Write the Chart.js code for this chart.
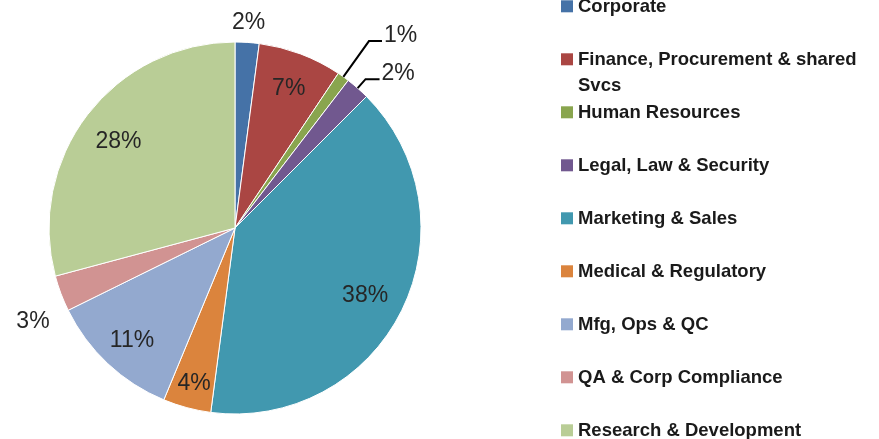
<!DOCTYPE html>
<html lang="en">

<head>
    <meta charset="UTF-8">
    <title>Pie chart - headcount by function</title>
    <style>
        body {
            margin: 0;
            background: #fff;
        }
    </style>
</head>

<body>
    <canvas id="myChart01" width="879" height="439"></canvas>
    <script src="https://cdn.jsdelivr.net/npm/chart.js"></script>
    <script>
        // data
        var categories = [
            'Corporate',
            ['Finance, Procurement & shared', 'Svcs'],
            'Human Resources',
            'Legal, Law & Security',
            'Marketing & Sales',
            'Medical & Regulatory',
            'Mfg, Ops & QC',
            'QA & Corp Compliance',
            'Research & Development'
        ];
        var shares = [2, 7, 1, 2, 38, 4, 11, 3, 28];

        // styles
        var sliceColors = ['#4572A7', '#AA4643', '#89A54E', '#71588F', '#4198AF', '#DB843D', '#93A9CF', '#D19392', '#B9CD96'];
        // label placement per slice: [radius factor, angle nudge in deg], object = leader line
        var labelPlace = [[1.12, 0], [0.82, 0], { len: 44, h: 13 }, { len: 12, h: 14 }, [0.78, 0], [0.85, 0], [0.81, 0], [1.19, -3.5], [0.79, 0]];

        var labelPlugin = {
            id: 'pieLabels',
            afterDraw: function (chart) {
                var ctx = chart.ctx;
                var arcs = chart.getDatasetMeta(0).data;
                ctx.save();
                ctx.fillStyle = '#262626';
                ctx.font = '23px "Liberation Sans", Arial, sans-serif';
                arcs.forEach(function (arc, i) {
                    var p = arc.getProps(['x', 'y', 'startAngle', 'endAngle', 'outerRadius'], true);
                    var mid = (p.startAngle + p.endAngle) / 2;
                    var txt = shares[i] + '%';
                    var place = labelPlace[i];
                    if (Array.isArray(place)) {
                        var a = mid + place[1] * Math.PI / 180;
                        ctx.textAlign = 'center';
                        ctx.textBaseline = 'middle';
                        ctx.fillText(txt, p.x + Math.cos(a) * p.outerRadius * place[0], p.y + 3 + Math.sin(a) * p.outerRadius * place[0]);
                    } else {
                        // leader line
                        var x0 = p.x + Math.cos(mid) * p.outerRadius;
                        var y0 = p.y + Math.sin(mid) * p.outerRadius;
                        var x1 = p.x + Math.cos(mid) * (p.outerRadius + place.len);
                        var y1 = p.y + Math.sin(mid) * (p.outerRadius + place.len);
                        ctx.beginPath();
                        ctx.moveTo(x0, y0);
                        ctx.lineTo(x1, y1);
                        ctx.lineTo(x1 + place.h, y1);
                        ctx.strokeStyle = '#000';
                        ctx.lineWidth = 2;
                        ctx.stroke();
                        ctx.textAlign = 'left';
                        ctx.textBaseline = 'alphabetic';
                        ctx.fillText(txt, x1 + place.h + 2, y1 + 1);
                    }
                });

                // legend on the right
                ctx.font = 'bold 18.5px "Liberation Sans", Arial, sans-serif';
                ctx.textAlign = 'left';
                ctx.textBaseline = 'middle';
                categories.forEach(function (item, i) {
                    var y = 6.3 + 53 * i;
                    ctx.fillStyle = sliceColors[i];
                    ctx.fillRect(561, y - 6, 12, 12);
                    ctx.fillStyle = '#1a1a1a';
                    var lines = Array.isArray(item) ? item : [item];
                    lines.forEach(function (line, k) {
                        ctx.fillText(line, 578, y + 1 + k * 26);
                    });
                });
                ctx.restore();
            }
        };

        var ctx01 = document.getElementById('myChart01');
        var chart01 = new Chart(ctx01, {
            type: 'pie',
            data: {
                labels: categories,
                datasets: [{
                    data: shares,
                    backgroundColor: sliceColors,
                    borderColor: '#fff',
                    borderWidth: 1
                }]
            },
            options: {
                responsive: false,
                animation: false,
                devicePixelRatio: 1,
                layout: {
                    padding: { top: 41.5, bottom: 24.5, left: 48.5, right: 457.5 }
                },
                plugins: {
                    legend: { display: false },
                    tooltip: { enabled: false }
                }
            },
            plugins: [labelPlugin]
        });
    </script>
</body>

</html>
